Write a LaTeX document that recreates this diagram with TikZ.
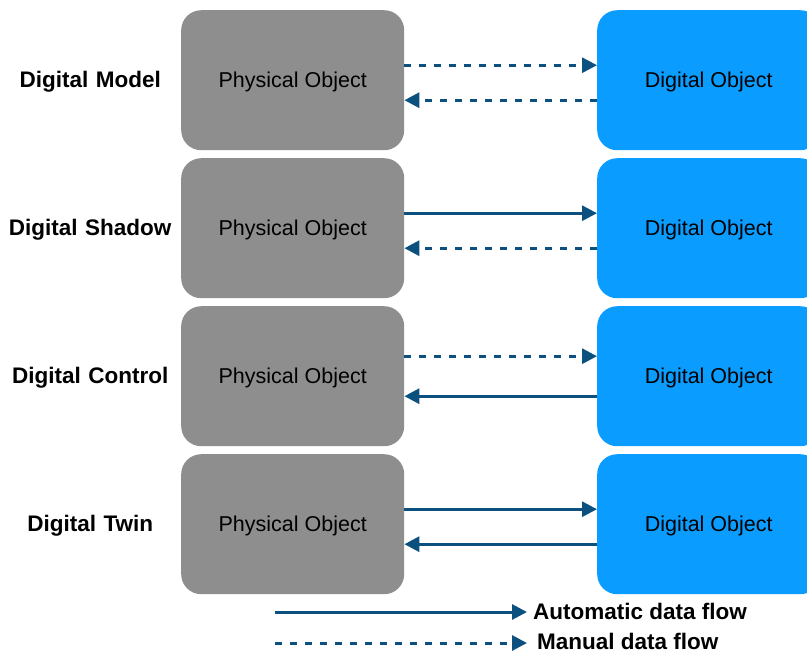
\documentclass[tikz,border=0pt]{standalone}
\usepackage{fontspec}
\setmainfont{Liberation Sans}
\usetikzlibrary{matrix,arrows.meta}
\definecolor{boxgray}{HTML}{8E8E8E}
\definecolor{boxblue}{HTML}{0A9DFF}
\definecolor{flowblue}{HTML}{0C5080}
\tikzset{
  objnode/.style  = {shape=rectangle, rounded corners=20pt,
                     minimum width=223pt, minimum height=140pt, text depth=0pt,
                     inner sep=0pt, font=\fontsize{21.5}{25}\selectfont},
  physobj/.style  = {objnode, fill=boxgray},
  digobj/.style   = {objnode, fill=boxblue},
  rowlabel/.style = {text width=170pt, align=center, inner sep=0pt, text depth=0pt,
                     font=\bfseries\fontsize{22.5}{26}\selectfont},
  legend/.style   = {inner sep=0pt, anchor=west, font=\bfseries\fontsize{22.5}{26}\selectfont},
  flow/.style     = {draw=flowblue, line width=3pt, -{Triangle[length=15pt,width=15pt]}},
  autoflow/.style = {flow},
  manflow/.style  = {flow, dash pattern=on 7pt off 8pt}
}
\newcommand{\hin}[2]{([yshift=#2]chart-#1-2.east) -- ([yshift=#2]chart-#1-2.east -| chart-#1-3.west)}
\newcommand{\her}[2]{([yshift=#2]chart-#1-2.east -| chart-#1-3.west) -- ([yshift=#2]chart-#1-2.east)}

\begin{document}
\begin{tikzpicture}[x=1pt, y=-1pt]
  \clip (0,0) rectangle (807,654);
  \matrix (chart)
    [
      matrix of nodes,
      inner sep       = 0pt,
      anchor          = north west,
      column sep      = 6pt,
      row sep         = 8pt,
      column 1/.style = {nodes={rowlabel}},
      column 2/.style = {nodes={physobj}},
      column 3/.style = {nodes={digobj}}
    ] at (5,10)
    {
      Digital Model   & Physical Object &[187pt] Digital Object \\
      Digital Shadow  & Physical Object &        Digital Object \\
      Digital Control & Physical Object &        Digital Object \\
      Digital Twin    & Physical Object &        Digital Object \\
    };
  \draw[manflow]  \hin{1}{15pt};
  \draw[manflow]  \her{1}{-20pt};
  \draw[autoflow] \hin{2}{15pt};
  \draw[manflow]  \her{2}{-20pt};
  \draw[manflow]  \hin{3}{20pt};
  \draw[autoflow] \her{3}{-20pt};
  \draw[autoflow] \hin{4}{15pt};
  \draw[autoflow] \her{4}{-20pt};

  % legend
  \node[legend] (autotext) at (533,611) {Automatic data flow};
  \node[legend] (mantext)  at (537,641) {Manual data flow};
  \coordinate (autostart) at (275,612);
  \coordinate (autoend)   at (527,612);
  \coordinate (manstart)  at (275,643);
  \coordinate (manend)    at (527,643);
  \draw[autoflow] (autostart) -- (autoend);
  \draw[manflow]  (manstart) -- (manend);
\end{tikzpicture}
\end{document}
